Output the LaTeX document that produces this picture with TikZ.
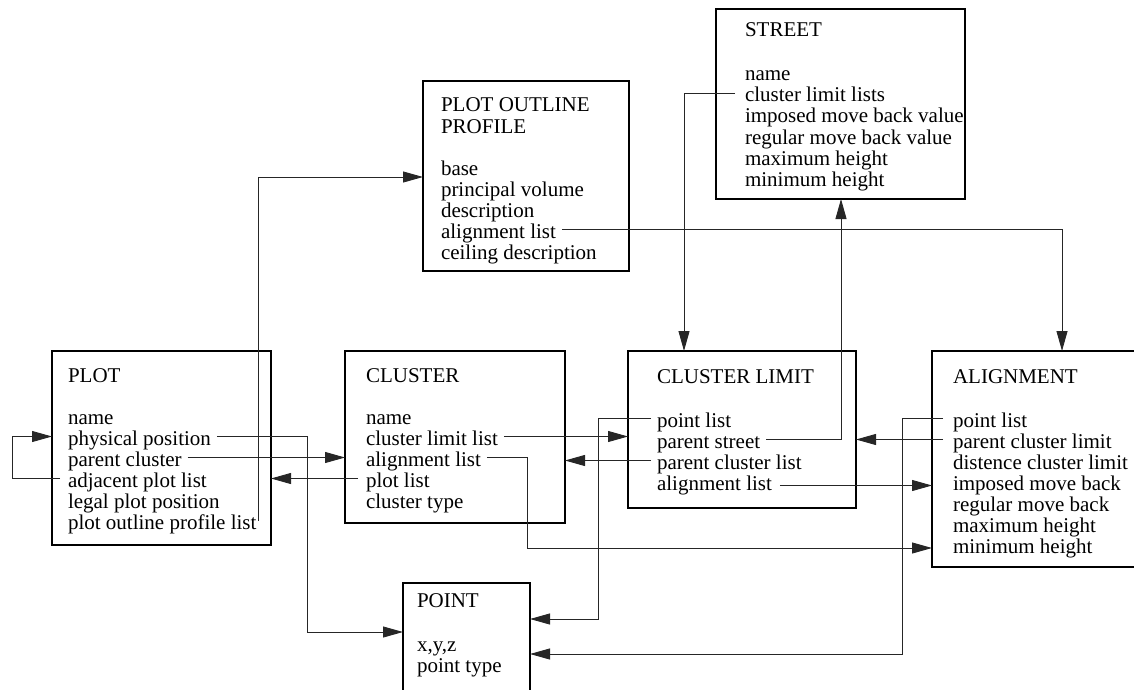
\documentclass[tikz,border=0pt]{standalone}
\usepackage{fontspec}
\setmainfont{Liberation Serif}
\usetikzlibrary{arrows.meta}
\begin{document}
\begin{tikzpicture}[x=1pt,y=-1pt,
  box/.style={draw, line width=2.4pt, inner sep=0pt, outer sep=0pt, anchor=north west},
  txt/.style={anchor=base west, inner sep=0pt, outer sep=0pt, font=\fontsize{21}{22}\selectfont},
  conn/.style={draw=black!85, line width=0.9pt, -{Triangle[length=20pt,width=11pt]}},
  plain/.style={draw=black!85, line width=0.9pt}]
\useasboundingbox (0,0) rectangle (1134,690);
\clip (0,0) rectangle (1134,690);
% boxes
\node[box, minimum width=219pt, minimum height=194pt] (plot) at (52,351) {};
\node[box, minimum width=220pt, minimum height=172pt] (cluster) at (345,351) {};
\node[box, minimum width=228pt, minimum height=157pt] (clim) at (628,351) {};
\node[box, minimum width=230pt, minimum height=216pt] (align) at (932,351) {};
\node[box, minimum width=127pt, minimum height=140pt] (point) at (403,583) {};
\node[box, minimum width=206pt, minimum height=190pt] (pop) at (423,81) {};
\node[box, minimum width=249pt, minimum height=190pt] (street) at (716,9) {};
% PLOT texts
\node[txt] (plt) at (68,382) {PLOT};
\node[txt] (pl1) at (68,424) {name};
\node[txt] (pl2) at (68,445) {physical position};
\node[txt] (pl3) at (68,466) {parent cluster};
\node[txt] (pl4) at (68,487) {adjacent plot list};
\node[txt] (pl5) at (68,508) {legal plot position};
\node[txt] (pl6) at (68,529) {plot outline profile list};
% CLUSTER texts
\node[txt] (clt) at (366,382) {CLUSTER};
\node[txt] (cl1) at (366,424) {name};
\node[txt] (cl2) at (366,445) {cluster limit list};
\node[txt] (cl3) at (366,466) {alignment list};
\node[txt] (cl4) at (366,487) {plot list};
\node[txt] (cl5) at (366,508) {cluster type};
% CLUSTER LIMIT texts
\node[txt] (cmt) at (657,383) {CLUSTER LIMIT};
\node[txt] (cm1) at (657,427) {point list};
\node[txt] (cm2) at (657,448) {parent street};
\node[txt] (cm3) at (657,469) {parent cluster list};
\node[txt] (cm4) at (657,490) {alignment list};
% ALIGNMENT texts
\node[txt] (alt) at (953,383) {ALIGNMENT};
\node[txt] (al1) at (953,427) {point list};
\node[txt] (al2) at (953,448) {parent cluster limit};
\node[txt] (al3) at (953,469) {distence cluster limit};
\node[txt] (al4) at (953,490) {imposed move back};
\node[txt] (al5) at (953,511) {regular move back};
\node[txt] (al6) at (953,532) {maximum height};
\node[txt] (al7) at (953,553) {minimum height};
% POINT texts
\node[txt] (ptt) at (417,607) {POINT};
\node[txt] (pt1) at (417,651) {x,y,z};
\node[txt] (pt2) at (417,672) {point type};
% PLOT OUTLINE PROFILE texts
\node[txt] (pot1) at (441,112) {PLOT OUTLINE};
\node[txt] (pot2) at (441,133) {PROFILE};
\node[txt] (po1) at (441,175) {base};
\node[txt] (po2) at (441,196) {principal volume};
\node[txt] (po3) at (441,217) {description};
\node[txt] (po4) at (441,238) {alignment list};
\node[txt] (po5) at (441,259) {ceiling description};
% STREET texts
\node[txt] (stt) at (745,37) {STREET};
\node[txt] (st1) at (745,81) {name};
\node[txt] (st2) at (745,102) {cluster limit lists};
\node[txt] (st3) at (745,123) {imposed move back value};
\node[txt] (st4) at (745,144) {regular move back value};
\node[txt] (st5) at (745,165) {maximum height};
\node[txt] (st6) at (745,186) {minimum height};
% connector endpoints
\coordinate (pl2R) at ([xshift=6pt,yshift=8.5pt]pl2.base east);
\coordinate (pl3R) at ([xshift=6pt,yshift=8.5pt]pl3.base east);
\coordinate (pl4L) at ([xshift=-8pt,yshift=8.5pt]pl4.base west);
\coordinate (pl6R) at ([xshift=2pt,yshift=8.5pt]pl6.base east);
\coordinate (cl2R) at ([xshift=6pt,yshift=8.5pt]cl2.base east);
\coordinate (cl3R) at ([xshift=6pt,yshift=8.5pt]cl3.base east);
\coordinate (cl4L) at ([xshift=-8pt,yshift=8.5pt]cl4.base west);
\coordinate (cm1L) at ([xshift=-6pt,yshift=8.5pt]cm1.base west);
\coordinate (cm2R) at ([xshift=6pt,yshift=8.5pt]cm2.base east);
\coordinate (cm3L) at ([xshift=-6pt,yshift=8.5pt]cm3.base west);
\coordinate (cm4R) at ([xshift=8pt,yshift=4.5pt]cm4.base east);
\coordinate (al1L) at ([xshift=-10pt,yshift=8.5pt]al1.base west);
\coordinate (al2L) at ([xshift=-10pt,yshift=8.5pt]al2.base west);
\coordinate (st2L) at ([xshift=-10pt,yshift=8.5pt]st2.base west);
\coordinate (po4R) at ([xshift=6pt,yshift=8.5pt]po4.base east);
% corner helpers
\coordinate (cy1) at (307,632);
\coordinate (cy2) at (0,177);
\coordinate (cy3) at (527,548);
\coordinate (cy4) at (598,619);
\coordinate (cx5) at (841,0);
\coordinate (cy6) at (902,654);
\coordinate (cx7) at (684,0);
\coordinate (cx8) at (1062,0);
% connectors
\draw[conn] (pl4L) -- ++(-48,0) |- (plot.west |- pl2R);
\draw[conn] (pl2R) -| (cy1) -- (point.west |- cy1);
\draw[conn] (pl3R) -- (cluster.west |- pl3R);
\draw[conn] (cl4L) -- (plot.east |- cl4L);
\draw[conn] (pl6R) |- (pop.west |- cy2);
\draw[conn] (cl2R) -- (clim.west |- cl2R);
\draw[conn] (cm3L) -- (cluster.east |- cm3L);
\draw[conn] (cl3R) -| (cy3) -- (align.west |- cy3);
\draw[conn] (cm1L) -| (cy4) -- (point.east |- cy4);
\draw[conn] (cm2R) -| (street.south -| cx5);
\draw[conn] (al2L) -- (clim.east |- al2L);
\draw[conn] (cm4R) -- (align.west |- cm4R);
\draw[conn] (al1L) -| (cy6) -- (point.east |- cy6);
\draw[conn] (st2L) -| (clim.north -| cx7);
\draw[conn] (po4R) -| (align.north -| cx8);
\end{tikzpicture}
\end{document}
